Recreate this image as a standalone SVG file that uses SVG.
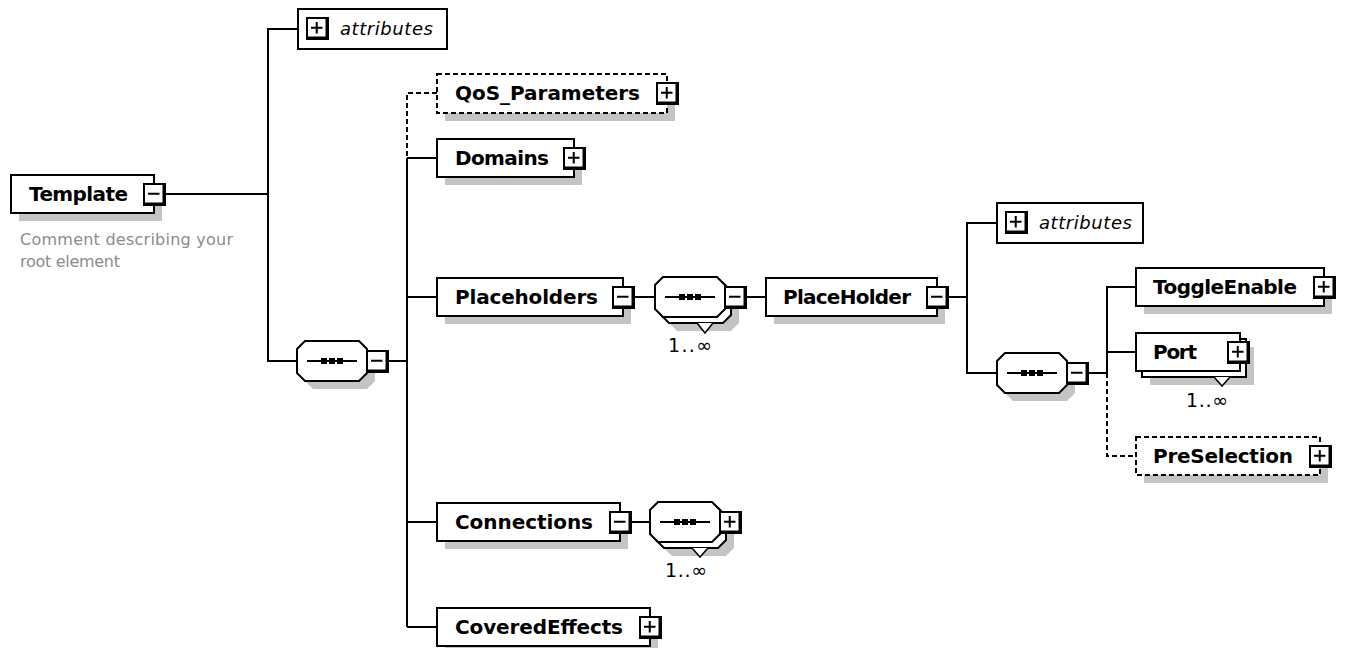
<svg xmlns="http://www.w3.org/2000/svg" xmlns:xlink="http://www.w3.org/1999/xlink" width="1346" height="648" viewBox="0 0 1346 648">
  <style>
    .box{fill:#fff;stroke:#000;stroke-width:2}
    .dashed{stroke-dasharray:5 3}
    .shadow{fill:#c4c4c4}
    .conn{fill:none;stroke:#000;stroke-width:2}
    .conn-opt{fill:none;stroke:#000;stroke-width:2;stroke-dasharray:5 3}
    .lbl{font-family:"DejaVu Sans","Liberation Sans",sans-serif;font-weight:bold;font-size:20px;fill:#000}
    .attr{font-family:"DejaVu Sans","Liberation Sans",sans-serif;font-style:italic;font-size:18px;fill:#000}
    .mult{font-family:"DejaVu Sans","Liberation Sans",sans-serif;font-size:19px;fill:#000}
    .note{font-family:"DejaVu Sans","Liberation Sans",sans-serif;font-size:16px;fill:#8c8c8c}
  </style>
  <defs>
    <!-- expand / collapse buttons with heavy lower-right edge -->
    <g id="btn-minus">
      <rect x="0" y="0" width="23" height="23" fill="#000"/>
      <rect x="2" y="2" width="17.5" height="17.5" fill="#fff"/>
      <path d="M5,10.75 H16.5" stroke="#000" stroke-width="2"/>
    </g>
    <g id="btn-plus">
      <rect x="0" y="0" width="23" height="23" fill="#000"/>
      <rect x="2" y="2" width="17.5" height="17.5" fill="#fff"/>
      <path d="M5,10.75 H16.5 M10.75,5 V16.5" stroke="#000" stroke-width="2"/>
    </g>
    <!-- sequence compositor octagon -->
    <path id="oct" d="M8,0 H62 L70,8 V32 L62,40 H8 L0,32 V8 Z"/>
    <g id="seq-mark">
      <path d="M10,20 H60" stroke="#000" stroke-width="2"/>
      <rect x="24" y="17" width="6" height="6" fill="#000"/>
      <rect x="32" y="17" width="6" height="6" fill="#000"/>
      <rect x="40" y="17" width="6" height="6" fill="#000"/>
    </g>
  </defs>

  <!-- connectors -->
  <g id="connectors">
    <path class="conn" d="M154,194 H268"/>
    <path class="conn" d="M298,29 H268 V361 H297"/>
    <path class="conn" d="M387,361 H407"/>
    <path class="conn-opt" d="M437,93 H407 V158"/>
    <path class="conn" d="M407,158 V627"/>
    <path class="conn" d="M407,158 H437 M407,297 H437 M407,522 H437 M407,627 H437"/>
    <path class="conn" d="M623,297 H655 M745,297 H766"/>
    <path class="conn" d="M937,297 H967 M997,223 H967 V373 H997"/>
    <path class="conn" d="M1087,373 H1107 M1136,287 H1107 V373 M1107,352 H1136"/>
    <path class="conn-opt" d="M1107,373 V456 H1136"/>
    <path class="conn" d="M620,522 H650"/>
  </g>

  <!-- root element -->
  <g id="n-template">
    <rect class="shadow" x="19" y="183" width="143" height="38"/>
    <rect class="box" x="11" y="175" width="143" height="38"/>
    <text class="lbl" x="29" y="201" textLength="99">Template</text>
    <use xlink:href="#btn-minus" x="143" y="183"/>
    <text class="note" x="20" y="245" textLength="213">Comment describing your</text>
    <text class="note" x="20" y="267" textLength="100">root element</text>
  </g>

  <g id="n-attributes-template">
    <rect class="box" x="298" y="9" width="149" height="40"/>
    <use xlink:href="#btn-plus" x="306" y="17"/>
    <text class="attr" x="340" y="35" textLength="93">attributes</text>
  </g>

  <g id="n-seq-template">
    <use xlink:href="#oct" x="305" y="349" class="shadow"/>
    <use xlink:href="#oct" x="297" y="341" class="box"/>
    <use xlink:href="#seq-mark" x="297" y="341"/>
    <use xlink:href="#btn-minus" x="366" y="350"/>
  </g>

  <g id="n-qos">
    <rect class="shadow" x="445" y="82" width="230" height="39"/>
    <rect class="box dashed" x="437" y="74" width="230" height="39"/>
    <text class="lbl" x="455" y="100" textLength="185">QoS_Parameters</text>
    <use xlink:href="#btn-plus" x="656" y="82"/>
  </g>

  <g id="n-domains">
    <rect class="shadow" x="445" y="147" width="137" height="38"/>
    <rect class="box" x="437" y="139" width="137" height="38"/>
    <text class="lbl" x="455" y="165" textLength="94">Domains</text>
    <use xlink:href="#btn-plus" x="563" y="147"/>
  </g>

  <g id="n-placeholders">
    <rect class="shadow" x="445" y="286" width="186" height="38"/>
    <rect class="box" x="437" y="278" width="186" height="38"/>
    <text class="lbl" x="455" y="304" textLength="143">Placeholders</text>
    <use xlink:href="#btn-minus" x="612" y="286"/>
  </g>

  <g id="n-seq-placeholders">
    <use xlink:href="#oct" x="669" y="291" class="shadow"/>
    <use xlink:href="#oct" x="661" y="283" class="box"/>
    <use xlink:href="#oct" x="655" y="277" class="box"/>
    <use xlink:href="#seq-mark" x="655" y="277"/>
    <use xlink:href="#btn-minus" x="724" y="286"/>
    <path d="M697,323 L705,333 L713,323" fill="#fff" stroke="#000" stroke-width="1.5"/>
    <text class="mult" x="668" y="352" textLength="44">1..∞</text>
  </g>

  <g id="n-placeholder">
    <rect class="shadow" x="774" y="286" width="171" height="38"/>
    <rect class="box" x="766" y="278" width="171" height="38"/>
    <text class="lbl" x="783" y="304" textLength="128">PlaceHolder</text>
    <use xlink:href="#btn-minus" x="926" y="286"/>
  </g>

  <g id="n-attributes-placeholder">
    <rect class="box" x="997" y="203" width="146" height="40"/>
    <use xlink:href="#btn-plus" x="1005" y="211"/>
    <text class="attr" x="1039" y="229" textLength="93">attributes</text>
  </g>

  <g id="n-seq-placeholder">
    <use xlink:href="#oct" x="1005" y="361" class="shadow"/>
    <use xlink:href="#oct" x="997" y="353" class="box"/>
    <use xlink:href="#seq-mark" x="997" y="353"/>
    <use xlink:href="#btn-minus" x="1066" y="362"/>
  </g>

  <g id="n-toggleenable">
    <rect class="shadow" x="1144" y="276" width="188" height="38"/>
    <rect class="box" x="1136" y="268" width="188" height="38"/>
    <text class="lbl" x="1153" y="294" textLength="144">ToggleEnable</text>
    <use xlink:href="#btn-plus" x="1313" y="276"/>
  </g>

  <g id="n-port">
    <rect class="shadow" x="1150" y="347" width="104" height="38"/>
    <rect class="box" x="1142" y="339" width="104" height="38"/>
    <rect class="box" x="1136" y="333" width="104" height="38"/>
    <text class="lbl" x="1153" y="359" textLength="44">Port</text>
    <use xlink:href="#btn-plus" x="1227" y="341"/>
    <path d="M1214,377 L1222,386 L1230,377" fill="#fff" stroke="#000" stroke-width="1.5"/>
    <text class="mult" x="1186" y="407" textLength="42">1..∞</text>
  </g>

  <g id="n-preselection">
    <rect class="shadow" x="1144" y="445" width="184" height="38"/>
    <rect class="box dashed" x="1136" y="437" width="184" height="38"/>
    <text class="lbl" x="1153" y="463" textLength="140">PreSelection</text>
    <use xlink:href="#btn-plus" x="1309" y="445"/>
  </g>

  <g id="n-connections">
    <rect class="shadow" x="445" y="511" width="183" height="38"/>
    <rect class="box" x="437" y="503" width="183" height="38"/>
    <text class="lbl" x="455" y="529" textLength="138">Connections</text>
    <use xlink:href="#btn-minus" x="609" y="511"/>
  </g>

  <g id="n-seq-connections">
    <use xlink:href="#oct" x="664" y="516" class="shadow"/>
    <use xlink:href="#oct" x="656" y="508" class="box"/>
    <use xlink:href="#oct" x="650" y="502" class="box"/>
    <use xlink:href="#seq-mark" x="650" y="502"/>
    <use xlink:href="#btn-plus" x="719" y="511"/>
    <path d="M692,548 L700,557 L708,548" fill="#fff" stroke="#000" stroke-width="1.5"/>
    <text class="mult" x="665" y="577" textLength="42">1..∞</text>
  </g>

  <g id="n-coveredeffects">
    <rect class="shadow" x="445" y="616" width="213" height="38"/>
    <rect class="box" x="437" y="608" width="213" height="38"/>
    <text class="lbl" x="455" y="634" textLength="168">CoveredEffects</text>
    <use xlink:href="#btn-plus" x="639" y="616"/>
  </g>
</svg>
